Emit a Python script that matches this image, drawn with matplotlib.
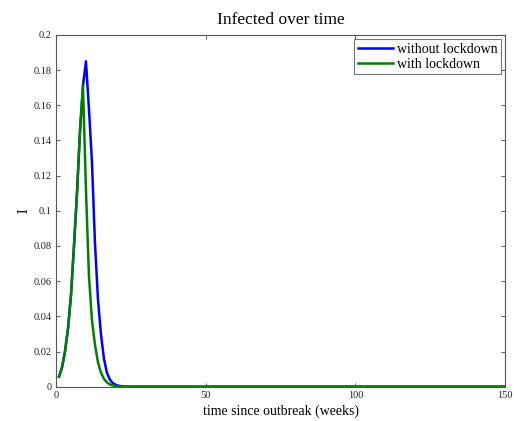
import matplotlib
matplotlib.use("Agg")
import matplotlib.pyplot as plt

# ── data (weekly samples) ───────────────────────────────────────────────────
weeks = [1, 2, 3, 4, 5, 6, 7, 8, 9, 10, 11, 12, 13, 14, 15, 16, 17, 18,
         19, 20, 21, 22, 23, 24, 25, 150]
i_without = [0.0057, 0.011, 0.020, 0.033, 0.052, 0.080, 0.110, 0.145, 0.171,
             0.185, 0.158, 0.128, 0.082, 0.050, 0.030, 0.016, 0.008, 0.004,
             0.002, 0.001, 0.0005, 0.0002, 0.0001, 0.0, 0.0, 0.0]
i_with = [0.0057, 0.011, 0.020, 0.033, 0.052, 0.080, 0.110, 0.145, 0.171,
          0.112, 0.063, 0.038, 0.024, 0.014, 0.008, 0.0045, 0.0025, 0.0013,
          0.0007, 0.0003, 0.0001, 0.0, 0.0, 0.0, 0.0, 0.0]

x_ticks = [0, 50, 100, 150]
y_ticks = [0, 0.02, 0.04, 0.06, 0.08, 0.1, 0.12, 0.14, 0.16, 0.18, 0.2]
y_tick_labels = ["0", "0.02", "0.04", "0.06", "0.08", "0.1", "0.12",
                 "0.14", "0.16", "0.18", "0.2"]

plt.rcParams["font.family"] = ["Liberation Serif", "DejaVu Serif"]

fig = plt.figure(figsize=(5.14, 4.21), dpi=100)
ax = fig.add_axes([0.109, 0.0815, 0.8735, 0.8355])

ax.plot(weeks, i_without, color="#0000ff", lw=1.8, label="without lockdown")
ax.plot(weeks, i_with, color="#008000", lw=1.8, label="with lockdown")

ax.set_xlim(0, 150)
ax.set_ylim(0, 0.2)
ax.set_xticks(x_ticks)
ax.set_xticklabels([str(v) for v in x_ticks])
ax.set_yticks(y_ticks)
ax.set_yticklabels(y_tick_labels)
ax.tick_params(direction="in", top=True, right=True, labelsize=7.5,
               length=3, width=0.6, colors="#444444", labelcolor="#222222",
               pad=3)
for sp in ax.spines.values():
    sp.set_color("#555555")
    sp.set_linewidth(0.8)

ax.set_title("Infected over time", fontsize=12.5, pad=8)
ax.set_xlabel("time since outbreak (weeks)", fontsize=10, labelpad=3)
ax.set_ylabel("I", fontsize=10, labelpad=2)

leg = ax.legend(loc="upper right", fontsize=10, frameon=True, fancybox=False,
                handlelength=2.5, handletextpad=0.3, borderpad=0.25,
                labelspacing=0.15, borderaxespad=0.3)
leg.get_frame().set_edgecolor("#555555")
leg.get_frame().set_linewidth(0.8)

fig.savefig("out.png", dpi=100)
